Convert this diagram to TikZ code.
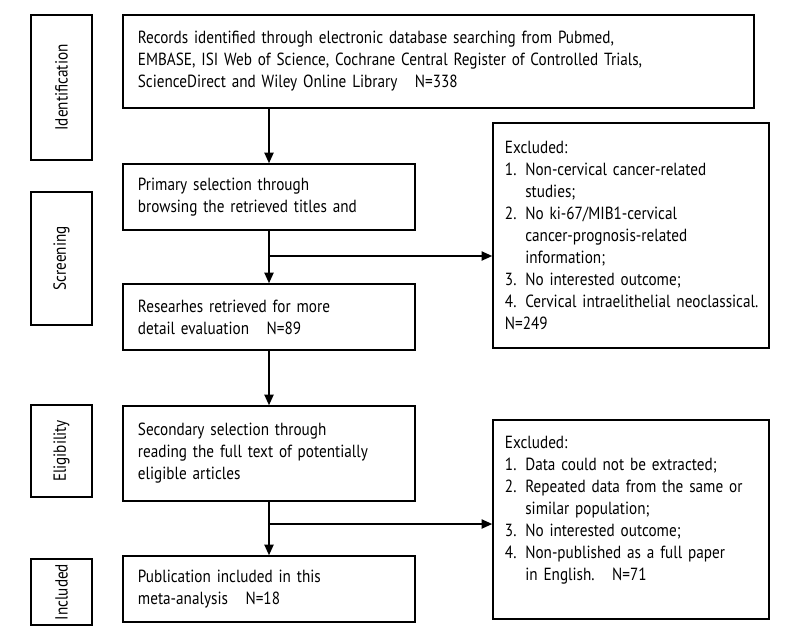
\documentclass[tikz,border=0pt]{standalone}
\usepackage{fontspec}
\setmainfont[FakeStretch=0.865]{PT Sans}
\usepackage{tikz}
\usetikzlibrary{arrows.meta,positioning}

\begin{document}
\begin{tikzpicture}[x=0.025cm, y=-0.025cm,
  every node/.style={font=\fontsize{12.5}{15.6}\selectfont},
  box/.style={draw, line width=1.1pt, align=left, inner ysep=0pt, inner xsep=0.375cm},
  exbox/.style={box, inner xsep=0.3cm, text width=6.3cm, minimum width=6.9cm},
  stage/.style={draw, line width=1.1pt, rotate=90, inner sep=0pt, minimum height=1.525cm},
  arr/.style={line width=1.1pt, -{Triangle[length=7.5pt,width=6.5pt]}}]
\useasboundingbox (0,0) rectangle (800,640);
% stages
\node[stage, minimum width=3.625cm] (ident) at (61.5,87.5) {Identification};
\node[stage, minimum width=3.325cm] (screen) at (61.5,258.5) {Screening};
\node[stage, minimum width=2.3cm] (elig) at (61.5,451) {Eligibility};
\node[stage, minimum width=1.65cm] (incl) at (61.5,592) {Included};
% main flow
\node[box, minimum width=15.775cm, minimum height=2.325cm, text width=15.025cm] (records) at (438.5,61.5)
  {Records identified through electronic database searching from Pubmed,\\
   EMBASE, ISI Web of Science, Cochrane Central Register of Controlled Trials,\\
   ScienceDirect and Wiley Online Library\quad N=338};
\node[box, minimum width=7.3cm, minimum height=1.65cm, text width=6.55cm] (primary) at (269,197)
  {Primary selection through\\ browsing the retrieved titles and};
\node[box, minimum width=7.3cm, minimum height=1.65cm, text width=6.55cm] (research) at (269,317)
  {Researhes retrieved for more\\ detail evaluation\quad N=89};
\node[box, minimum width=7.3cm, minimum height=2.375cm, text width=6.55cm] (second) at (269,453.5)
  {Secondary selection through\\ reading the full text of potentially\\ eligible articles};
\node[box, minimum width=7.3cm, minimum height=1.65cm, text width=6.55cm] (public) at (269,589)
  {Publication included in this\\ meta-analysis\quad N=18};
% excluded
\node[exbox, minimum height=5.625cm] (excl1) at (631,235.5)
  {Excluded:\\
   1. Non-cervical cancer-related\\ \phantom{1. }studies;\\
   2. No ki-67/MIB1-cervical\\ \phantom{2. }cancer-prognosis-related\\ \phantom{2. }information;\\
   3. No interested outcome;\\
   \mbox{4. Cervical intraelithelial neoclassical.}\\
   N=249};
\node[exbox, minimum height=4.975cm] (excl2) at (631,519.5)
  {Excluded:\\
   1. Data could not be extracted;\\
   2. Repeated data from the same or\\ \phantom{2. }similar population;\\
   3. No interested outcome;\\
   4. Non-published as a full paper\\ \phantom{4. }in English.\quad N=71\\ \mbox{}};
% connectors
\coordinate (br1) at (primary.south |- 0,256);
\coordinate (br2) at (second.south |- 0,524);
\draw[arr] (records.south -| primary) -- (primary.north);
\draw[arr] (primary.south) -- (research.north);
\draw[arr] (br1) -- (br1 -| excl1.west);
\draw[arr] (research.south) -- (second.north);
\draw[arr] (second.south) -- (public.north);
\draw[arr] (br2) -- (br2 -| excl2.west);
\end{tikzpicture}
\end{document}
